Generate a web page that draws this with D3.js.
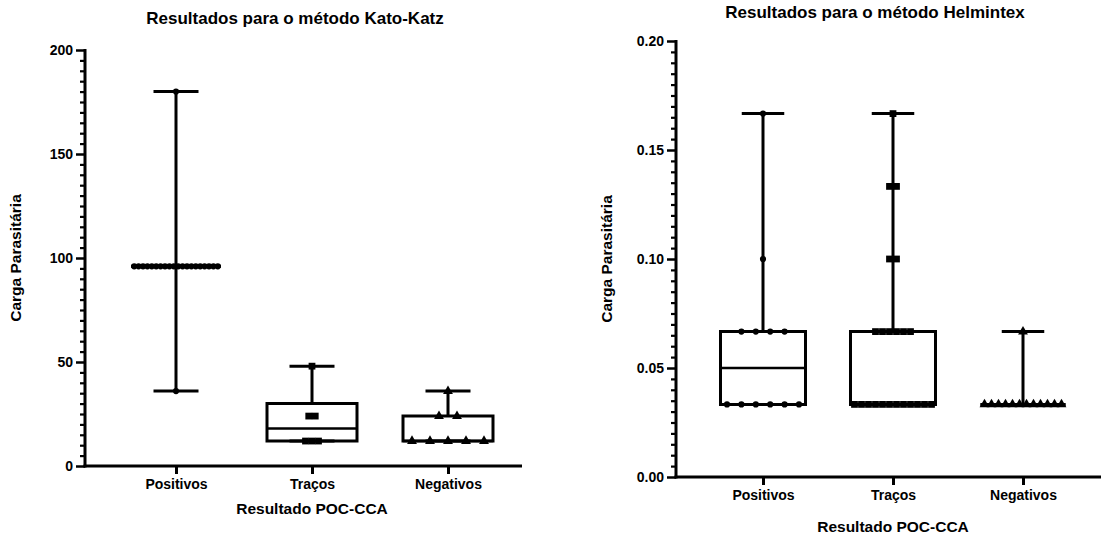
<!DOCTYPE html>
<html lang="pt">
<head>
    <meta charset="UTF-8">
    <title>Carga Parasitária por Resultado POC-CCA</title>
    <script src="https://d3js.org/d3.v7.min.js"></script>
    <style>
        body {
            margin: 0;
            background: white;
        }
        svg text {
            font-family: Arial, "Liberation Sans", sans-serif;
            font-weight: bold;
            fill: black;
        }
        .axis path, .axis line {
            stroke: black;
        }
    </style>
</head>
<body>
    <svg id="chart" width="1106" height="537"></svg>

    <script>
        // categories on the x axis (same for both panels)
        const categories = ["Positivos", "Traços", "Negativos"];

        // Kato-Katz: individual values per group
        const kkPositivos = [36, 96, 96, 96, 96, 96, 96, 96, 96, 96, 96, 96, 96, 96, 96, 96, 96, 96, 96, 96, 96, 180];
        const kkTracos = [12, 12, 12, 24, 24, 48];
        const kkNegativos = [12, 12, 12, 12, 12, 24, 24, 36];
        const kkTicks = [0, 50, 100, 150, 200];

        // Helmintex: individual values per group
        const hxPositivos = [0.0333, 0.0333, 0.0333, 0.0333, 0.0333, 0.0333, 0.0667, 0.0667, 0.0667, 0.0667, 0.1, 0.1667];
        const hxTracos = [0.0333, 0.0333, 0.0333, 0.0333, 0.0333, 0.0333, 0.0333, 0.0333, 0.0333, 0.0333, 0.0333, 0.0333,
                          0.0667, 0.0667, 0.0667, 0.0667, 0.0667, 0.0667, 0.1, 0.1, 0.1333, 0.1333, 0.1667];
        const hxNegativos = [0.0333, 0.0333, 0.0333, 0.0333, 0.0333, 0.0333, 0.0333, 0.0333, 0.0333, 0.0333, 0.0333, 0.0333, 0.0667];
        const hxTicks = [0, 0.05, 0.10, 0.15, 0.20];

        const svg = d3.select("#chart");

        // quartiles the way Prism does them, (n+1)p
        function quant(sorted, p) {
            const n = sorted.length;
            const pos = (n + 1) * p;
            if (pos <= 1) return sorted[0];
            if (pos >= n) return sorted[n - 1];
            const lo = Math.floor(pos);
            const frac = pos - lo;
            return sorted[lo - 1] + frac * (sorted[lo] - sorted[lo - 1]);
        }

        const markers = {
            circle: d3.symbol().type(d3.symbolCircle).size(30),
            square: d3.symbol().type(d3.symbolSquare).size(46),
            triangle: d3.symbol().type(d3.symbolTriangle).size(42)
        };

        function drawPanel(cfg) {
            const g = svg.append("g");

            const y = d3.scaleLinear().domain(cfg.domain).range([cfg.yBottom, cfg.yTop]);
            const x = d3.scalePoint().domain(categories)
                .range([cfg.x0 + cfg.padLeft, cfg.xEnd - cfg.padRight]);

            // minor ticks
            g.append("g")
                .attr("class", "axis")
                .attr("transform", `translate(${cfg.x0},0)`)
                .call(d3.axisLeft(y).tickValues(cfg.minor).tickSize(5).tickSizeOuter(0).tickFormat(""))
                .call(a => a.select(".domain").remove())
                .selectAll("line").attr("stroke-width", 2.2);

            // major ticks + labels
            const yAxis = g.append("g")
                .attr("class", "axis")
                .attr("transform", `translate(${cfg.x0},0)`)
                .call(d3.axisLeft(y).tickValues(cfg.ticks).tickSize(9).tickSizeOuter(0)
                    .tickPadding(3).tickFormat(cfg.format));
            yAxis.select(".domain").attr("stroke-width", 3)
                .attr("d", `M0,${cfg.yTop - 1}V${cfg.yBottom + 1.5}`);
            yAxis.selectAll("line").attr("stroke-width", 2.5);
            yAxis.selectAll("text").style("font-size", "14px");

            // x axis
            const xAxis = g.append("g")
                .attr("class", "axis")
                .attr("transform", `translate(0,${cfg.yBottom})`)
                .call(d3.axisBottom(x).tickSize(8).tickSizeOuter(0).tickPadding(cfg.catPad));
            xAxis.select(".domain").attr("stroke-width", 3)
                .attr("d", `M${cfg.x0 - 1.5},0H${cfg.xEnd}`);
            xAxis.selectAll("line").attr("stroke-width", 3);
            xAxis.selectAll("text").style("font-size", "14px");

            // boxes
            cfg.groups.forEach((vals, i) => {
                const cat = categories[i];
                const cx = x(cat);
                const s = vals.slice().sort(d3.ascending);
                const q1 = quant(s, 0.25), med = quant(s, 0.5), q3 = quant(s, 0.75);
                const lo = s[0], hi = s[s.length - 1];
                const hw = cfg.boxWidth / 2, cw = cfg.boxWidth / 4;
                const bg = g.append("g");

                // whiskers
                bg.append("path")
                    .attr("d", `M${cx},${y(q3)}V${y(hi)}M${cx},${y(q1)}V${y(lo)}`)
                    .attr("stroke", "black").attr("stroke-width", 3).attr("fill", "none");
                bg.append("path")
                    .attr("d", `M${cx - cw},${y(hi)}H${cx + cw}M${cx - cw},${y(lo)}H${cx + cw}`)
                    .attr("stroke", "black").attr("stroke-width", 3).attr("fill", "none");
                // box
                bg.append("path")
                    .attr("d", `M${cx - hw},${y(q3)}H${cx + hw}V${y(q1)}H${cx - hw}Z`)
                    .attr("stroke", "black").attr("stroke-width", 3).attr("fill", "none");
                // median
                bg.append("path")
                    .attr("d", `M${cx - hw},${y(med)}H${cx + hw}`)
                    .attr("stroke", "black").attr("stroke-width", 2.5);

                // points, same values spread sideways
                const groups = d3.groups(vals, d => d);
                groups.forEach(([v, arr]) => {
                    arr.forEach((d, k) => {
                        const dx = (k - (arr.length - 1) / 2) * cfg.spread[i];
                        bg.append("path")
                            .attr("d", markers[cfg.marker[i]]())
                            .attr("transform", `translate(${cx + dx},${y(v)})`)
                            .attr("fill", "black");
                    });
                });
            });

            // titles
            g.append("text")
                .attr("x", cfg.titleX).attr("y", cfg.titleY)
                .attr("text-anchor", "middle")
                .style("font-size", "17px")
                .text(cfg.title);

            g.append("text")
                .attr("x", x("Traços")).attr("y", cfg.xLabelY)
                .attr("text-anchor", "middle")
                .style("font-size", "15.5px")
                .text("Resultado POC-CCA");

            g.append("text")
                .attr("transform", `translate(${cfg.yLabelX},${(cfg.yTop + cfg.yBottom) / 2}) rotate(-90)`)
                .attr("text-anchor", "middle")
                .style("font-size", "15.5px")
                .text("Carga Parasitária");
        }

        drawPanel({
            title: "Resultados para o método Kato-Katz",
            titleX: 295, titleY: 24,
            domain: [0, 200], ticks: kkTicks,
            minor: d3.range(0, 201, 5).filter(v => v % 50 !== 0),
            format: d3.format("d"),
            x0: 85, xEnd: 522, yTop: 50, yBottom: 466,
            padLeft: 91, padRight: 74,
            catPad: 5, xLabelY: 514, yLabelX: 21,
            boxWidth: 90,
            groups: [kkPositivos, kkTracos, kkNegativos],
            marker: ["circle", "square", "triangle"],
            spread: [4.4, 6.5, 18]
        });

        drawPanel({
            title: "Resultados para o método Helmintex",
            titleX: 875, titleY: 18,
            domain: [0, 0.2], ticks: hxTicks,
            minor: d3.range(0, 41).filter(i => i % 10 !== 0).map(i => i * 0.005),
            format: d3.format(".2f"),
            x0: 676, xEnd: 1101, yTop: 41, yBottom: 477,
            padLeft: 87, padRight: 78,
            catPad: 5, xLabelY: 532, yLabelX: 612,
            boxWidth: 85,
            groups: [hxPositivos, hxTracos, hxNegativos],
            marker: ["circle", "square", "triangle"],
            spread: [14.4, 7, 7]
        });
    </script>
</body>
</html>
